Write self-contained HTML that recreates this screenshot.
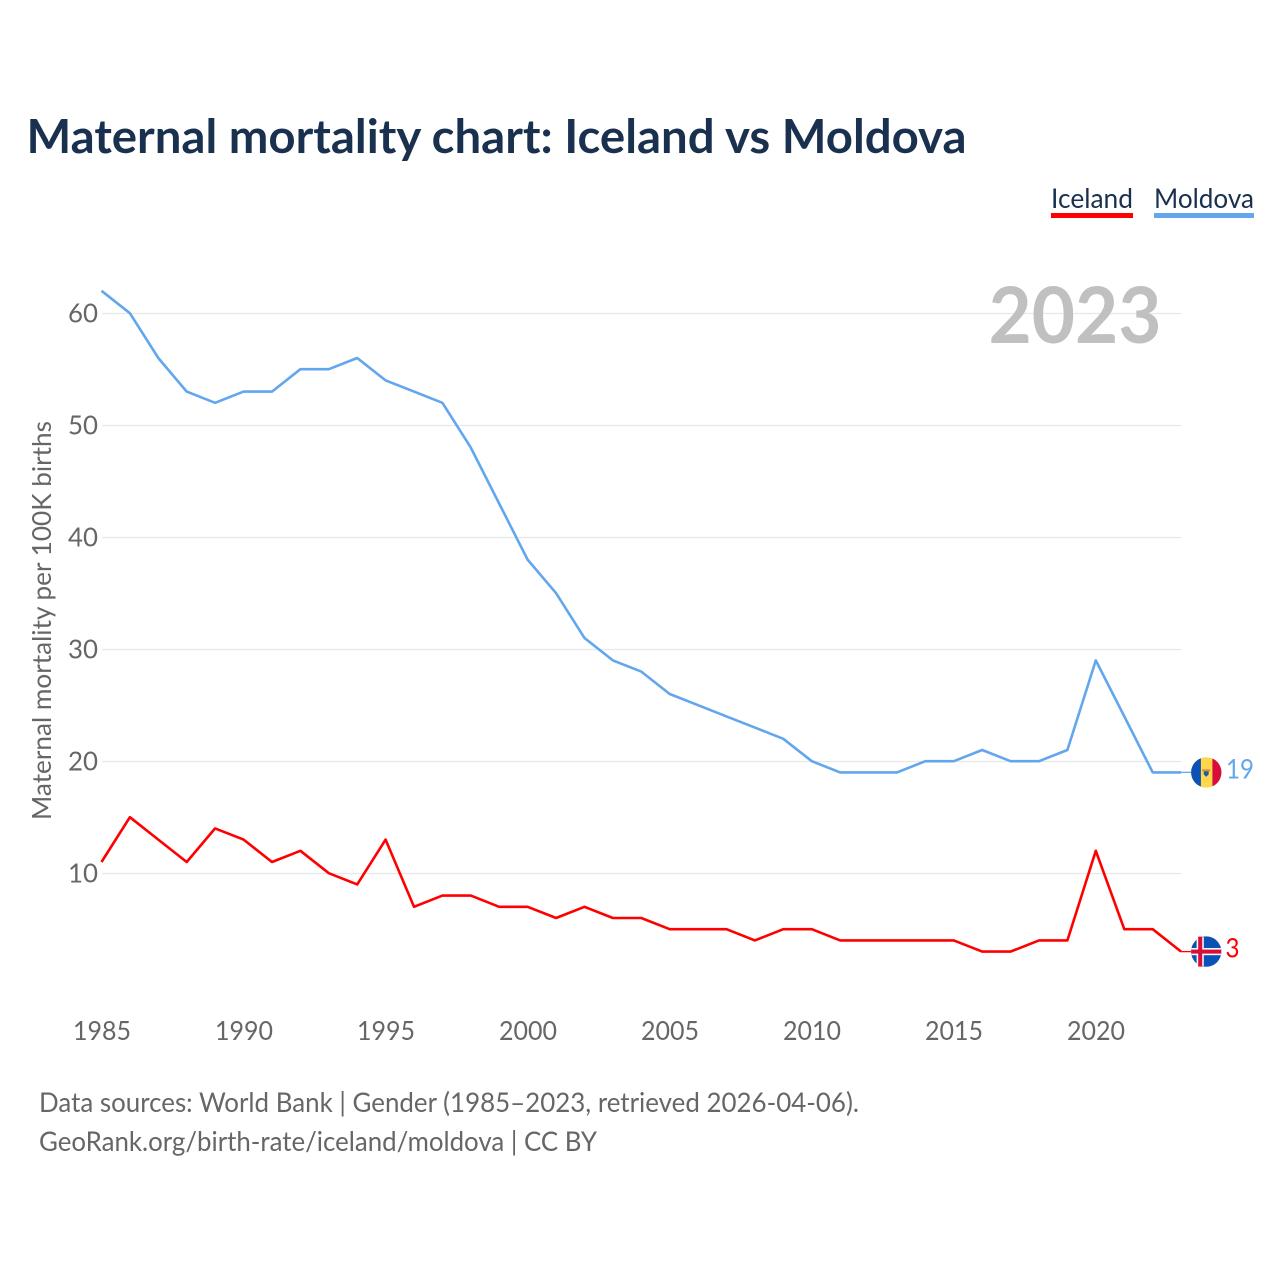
<!DOCTYPE html>
<html lang="en">
<head>
<meta charset="utf-8">
<title>Maternal mortality chart: Iceland vs Moldova</title>
<style>
html,body{margin:0;padding:0;background:#fff;width:1280px;height:1280px;overflow:hidden}
svg{display:block}
text{font-family:"Lato","Carlito","Liberation Sans",sans-serif}
</style>
</head>
<body>
<svg id="chart" xmlns="http://www.w3.org/2000/svg" width="1280" height="1280" viewBox="0 0 1280 1280">
  <rect width="1280" height="1280" fill="#fff"/>
  <text x="26.5" y="153" font-size="47" font-weight="700" fill="#19314f" textLength="940" lengthAdjust="spacingAndGlyphs">Maternal mortality chart: Iceland vs Moldova</text>
  <g>
    <text x="1051" y="208" font-size="27" fill="#19314f" textLength="82" lengthAdjust="spacingAndGlyphs">Iceland</text>
    <rect x="1051" y="213" width="82" height="5" fill="#ff0000"/>
  </g>
  <g>
    <text x="1154" y="208" font-size="27" fill="#19314f" textLength="100" lengthAdjust="spacingAndGlyphs">Moldova</text>
    <rect x="1154" y="213" width="100" height="5" fill="#62a6ed"/>
  </g>
  <g id="grid"></g>
  <g id="yticks"></g>
  <g id="xticks"></g>
  <text x="1161.5" y="343" text-anchor="end" font-size="78" font-weight="700" fill="#c0c0c0" textLength="173" lengthAdjust="spacingAndGlyphs">2023</text>
  <text transform="translate(51 820) rotate(-90)" font-size="26" fill="#666" textLength="399" lengthAdjust="spacingAndGlyphs">Maternal mortality per 100K births</text>
  <g id="series"></g>
  <g id="ends"></g>
  <text x="39" y="1112" font-size="27" fill="#666" textLength="820" lengthAdjust="spacingAndGlyphs">Data sources: World Bank | Gender (1985–2023, retrieved 2026-04-06).</text>
  <text x="39" y="1151" font-size="27" fill="#666" textLength="558" lengthAdjust="spacingAndGlyphs">GeoRank.org/birth-rate/iceland/moldova | CC BY</text>
</svg>
<script>
const years = [1985,1986,1987,1988,1989,1990,1991,1992,1993,1994,1995,1996,1997,1998,1999,2000,2001,2002,2003,2004,2005,2006,2007,2008,2009,2010,2011,2012,2013,2014,2015,2016,2017,2018,2019,2020,2021,2022,2023];
const iceland = [11,15,13,11,14,13,11,12,10,9,13,7,8,8,7,7,6,7,6,6,5,5,5,4,5,5,4,4,4,4,4,3,3,4,4,12,5,5,3];
const moldova = [62,60,56,53,52,53,53,55,55,56,54,53,52,48,43,38,35,31,29,28,26,25,24,23,22,20,19,19,19,20,20,21,20,20,21,29,24,19,19];
const yTickValues = [10,20,30,40,50,60];
const xTickValues = [1985,1990,1995,2000,2005,2010,2015,2020];

const NS = 'http://www.w3.org/2000/svg';
const xScale = function (year) { return 101.5 + (year - 1985) * 28.41; };
const yScale = function (value) { return 985.2 - value * 11.2; };
const make = function (parent, tag, attrs, content) {
  const el = document.createElementNS(NS, tag);
  Object.keys(attrs).forEach(function (k) { el.setAttribute(k, attrs[k]); });
  if (content !== undefined) el.textContent = content;
  parent.appendChild(el);
  return el;
};

const grid = document.getElementById('grid');
const yticks = document.getElementById('yticks');
const xticks = document.getElementById('xticks');
const seriesGroup = document.getElementById('series');
const ends = document.getElementById('ends');

yTickValues.forEach(function (v) {
  const gy = 985.5 - v * 11.2;
  const line = make(grid, 'line', {x1: 102, x2: 1181, y1: gy, y2: gy, stroke: '#e8e8e8', 'stroke-width': 1.3});
  
  
  const label = make(yticks, 'text', {x: 98, y: gy + 9, 'text-anchor': 'end', 'font-size': 26, fill: '#666', textLength: 30, lengthAdjust: 'spacingAndGlyphs'}, String(v));
  
  
});

xTickValues.forEach(function (year) {
  const label = make(xticks, 'text', {x: 102 + (year - 1985) * 28.4, y: 1040, 'text-anchor': 'middle', 'font-size': 26, fill: '#666', textLength: 58, lengthAdjust: 'spacingAndGlyphs'}, String(year));
  
  
});

const pathFor = function (values) {
  return values.map(function (v, i) {
    return (i ? 'L' : 'M') + xScale(years[i]).toFixed(1) + ' ' + yScale(v).toFixed(1);
  }).join(' ');
};

const moldovaLine = make(seriesGroup, 'path', {d: pathFor(moldova), fill: 'none', stroke: '#62a6ed', 'stroke-width': 2.6, 'stroke-linejoin': 'round'});


const icelandLine = make(seriesGroup, 'path', {d: pathFor(iceland), fill: 'none', stroke: '#ff0000', 'stroke-width': 2.6, 'stroke-linejoin': 'round'});



const flagX = 1206.2;
const lastYear = years[years.length - 1];

/* Moldova end marker */
const mY = yScale(moldova[moldova.length - 1]);
const mConn = make(ends, 'line', {x1: xScale(lastYear), x2: flagX, y1: mY, y2: mY, stroke: '#62a6ed', 'stroke-width': 1.3});


const mFlag = make(ends, 'g', {transform: 'translate(' + flagX + ' ' + mY + ')'});


make(mFlag, 'circle', {r: 15.2, fill: '#ffd74a'});
make(mFlag, 'path', {d: 'M-5.3 -14.2 A15.2 15.2 0 0 0 -5.3 14.2 Z', fill: '#0a52b5'});
make(mFlag, 'path', {d: 'M6.2 -13.9 A15.2 15.2 0 0 1 6.2 13.9 Z', fill: '#d80d3a'});
make(mFlag, 'rect', {x: -4, y: -3, width: 8, height: 2, fill: '#d98a2b'});
make(mFlag, 'path', {d: 'M-2.5 -1 H2.5 V2 L0 4.5 L-2.5 2 Z', fill: '#1e5aa8'});
const mValue = make(ends, 'text', {x: 1226, y: mY + 6, 'font-size': 27, fill: '#62a6ed', textLength: 28, lengthAdjust: 'spacingAndGlyphs'}, String(moldova[moldova.length - 1]));



/* Iceland end marker */
const iY = yScale(iceland[iceland.length - 1]);
const iConn = make(ends, 'line', {x1: xScale(lastYear), x2: flagX, y1: iY, y2: iY, stroke: '#ff0000', 'stroke-width': 1.3});


const iFlag = make(ends, 'g', {transform: 'translate(' + flagX + ' ' + iY + ')'});


make(iFlag, 'circle', {r: 15.2, fill: '#0a52b5'});
make(iFlag, 'rect', {x: -15, y: -3.6, width: 30, height: 7.2, fill: '#f5f5f5'});
make(iFlag, 'rect', {x: -9.6, y: -14.5, width: 7.2, height: 29, fill: '#f5f5f5'});
make(iFlag, 'rect', {x: -15, y: -2, width: 30, height: 4, fill: '#d80d3a'});
make(iFlag, 'rect', {x: -8, y: -15, width: 4, height: 30, fill: '#d80d3a'});
const iValue = make(ends, 'text', {x: 1225.5, y: iY + 6, 'font-size': 27, fill: '#ff0000', textLength: 14, lengthAdjust: 'spacingAndGlyphs'}, String(iceland[iceland.length - 1]));


</script>
</body>
</html>
